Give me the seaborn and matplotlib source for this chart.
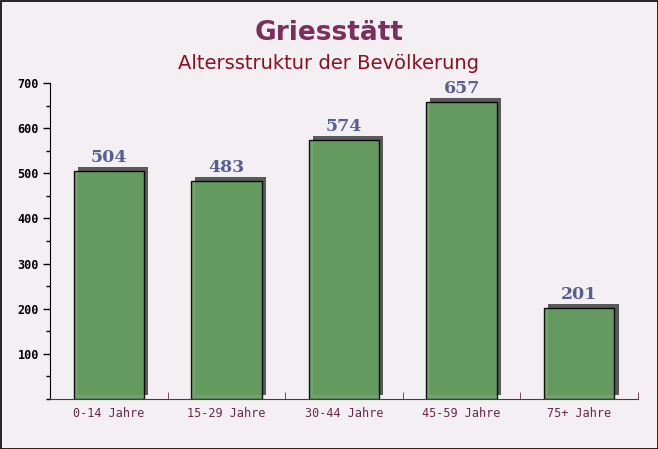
import matplotlib
matplotlib.use("Agg")
import matplotlib.pyplot as plt
import matplotlib.patheffects as pe
from matplotlib.ticker import MultipleLocator
import seaborn as sns
import pandas as pd

categories = ["0-14 Jahre", "15-29 Jahre", "30-44 Jahre", "45-59 Jahre", "75+ Jahre"]
values = [504, 483, 574, 657, 201]
title = "Griesstätt"
subtitle = "Altersstruktur der Bevölkerung"

df = pd.DataFrame({"cat": categories, "val": values})

sns.set_style("white")
bg = "#f3eff2"
fig = plt.figure(figsize=(6.58, 4.49), dpi=100, facecolor=bg)
ax = fig.add_axes([50/658, 1-399/449, 588/658, 316/449])
ax.set_facecolor("none")

sns.barplot(data=df, x="cat", y="val", ax=ax, color="#65a060", width=0.6,
            saturation=1, edgecolor="black", linewidth=1.0, alpha=0.92)
for p in ax.patches:
    p.set_path_effects([pe.SimplePatchShadow(offset=(3, 3), shadow_rgbFace="#5a5a5a", alpha=1.0), pe.Normal()])

for i, v in enumerate(values):
    ax.annotate(str(v), xy=(i, v), xytext=(0, 6.5), textcoords="offset points",
                ha="center", va="baseline", fontsize=12.5, fontweight="bold",
                family="DejaVu Serif", color="#566090")

ax.set_xlim(-0.5, 4.5)
ax.set_ylim(0, 700)
ax.set_xlabel("")
ax.set_ylabel("")
ax.yaxis.set_minor_locator(MultipleLocator(50))
ax.set_yticks(range(100, 701, 100))
ax.tick_params(axis="y", which="both", direction="out", left=True, length=5, width=1, color="black",
               labelsize=8.5, labelcolor="black", pad=3)
ax.tick_params(axis="y", which="minor", length=3)
for lab in ax.get_yticklabels():
    lab.set_family("DejaVu Sans Mono")
    lab.set_fontweight("bold")

ax.set_xticks(range(len(categories)))
ax.set_xticklabels(categories, family="DejaVu Sans Mono", fontsize=8.5, color="#6b2848")
ax.tick_params(axis="x", which="major", length=0, pad=6)
ax.set_xticks([0.5, 1.5, 2.5, 3.5, 4.5], minor=True)
ax.tick_params(axis="x", which="minor", direction="in", bottom=True, length=5, color="#6b2848")

for s in ["top", "right"]:
    ax.spines[s].set_visible(False)
ax.spines["left"].set_color("black")
ax.spines["bottom"].set_color("#6b2848")

fig.text(0.5, 1-40/449, title, ha="center", va="baseline", fontsize=19, fontweight="bold", color="#7b2f5c")
fig.text(0.5, 1-69/449, subtitle, ha="center", va="baseline", fontsize=14, color="#8b1020")

border = plt.Rectangle((0.5/658, 0.5/449), 1-1/658, 1-1/449, transform=fig.transFigure,
                       fill=False, edgecolor="black", linewidth=1.2)
fig.add_artist(border)

fig.savefig("out.png", dpi=100, facecolor=bg)
